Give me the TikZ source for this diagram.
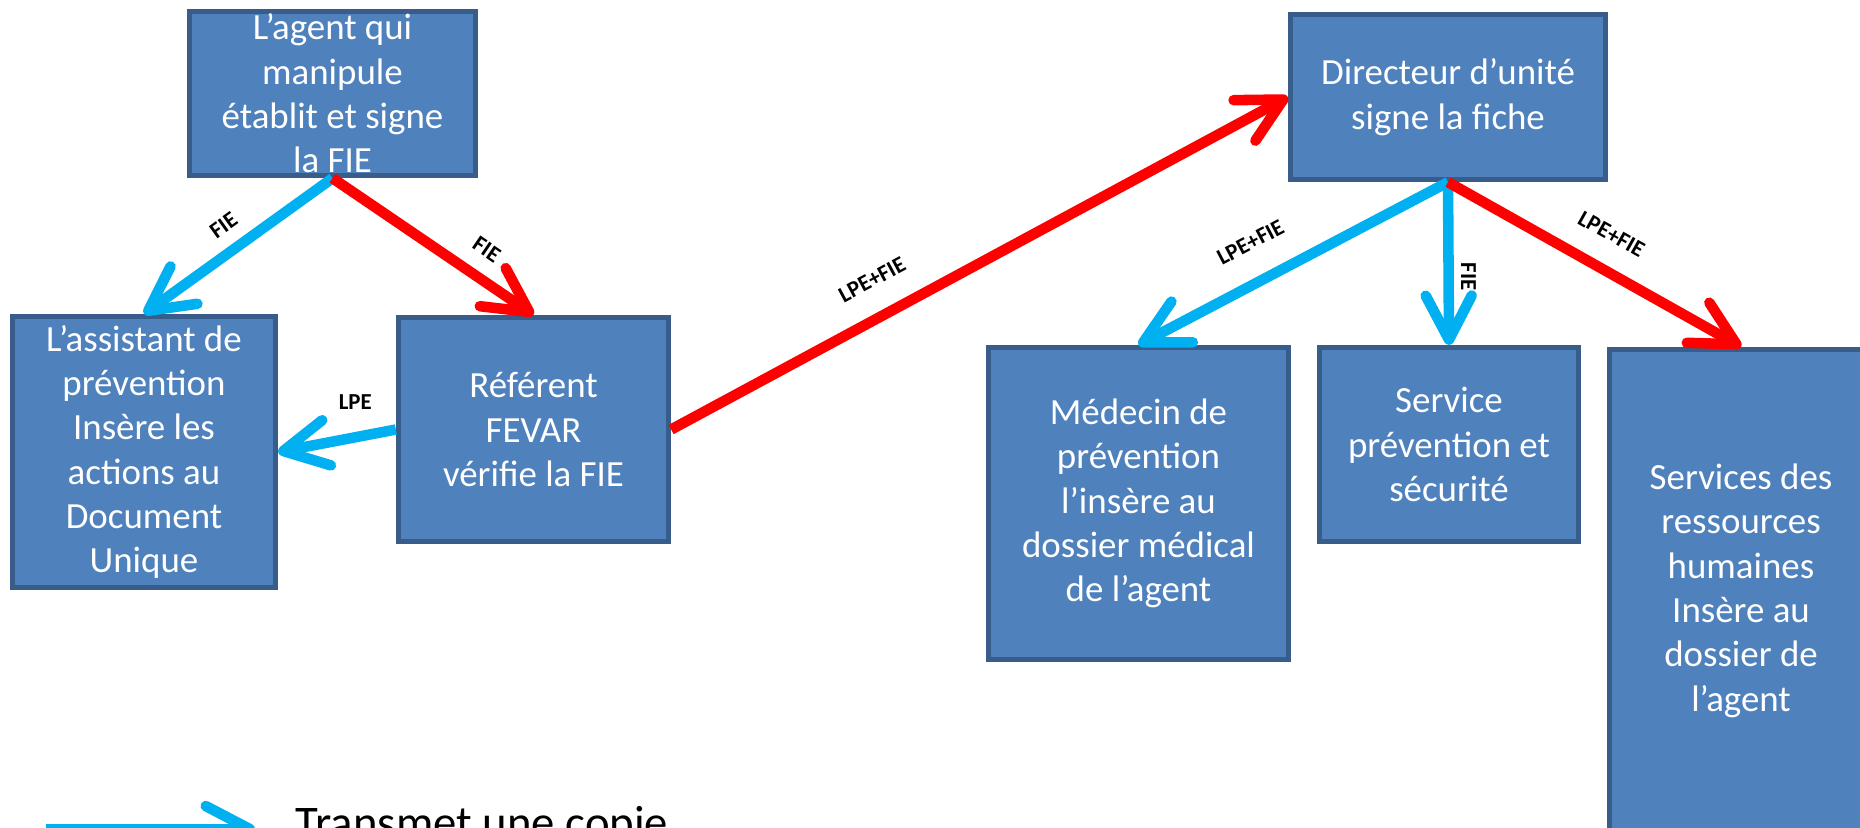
\documentclass[tikz,border=0pt]{standalone}
\usepackage{fontspec}
\setmainfont{Carlito}
\usetikzlibrary{arrows.meta}
\definecolor{boxfill}{RGB}{79,129,189}
\definecolor{boxline}{RGB}{56,93,138}
\definecolor{copyblue}{RGB}{0,176,240}
\definecolor{sendred}{RGB}{255,0,0}

\begin{document}
\begin{tikzpicture}[
  box/.style={draw=boxline, fill=boxfill, line width=1.5pt, text=white, align=center, inner sep=0pt, font=\fontsize{10.5}{12.6}\selectfont},
  flow/.style={line width=3pt, -{Straight Barb[length=4.4mm, width=4.6mm, round]}},
  copie/.style={flow, draw=copyblue},
  envoi/.style={flow, draw=sendred},
  lbl/.style={font=\bfseries\fontsize{6.5}{7}\selectfont, inner sep=1.3mm}
]
\useasboundingbox (0,0) rectangle (18.6,-8.27);
\clip (0,0) rectangle (18.6,-8.27);

% Boxes, left part
\node[box, minimum width=2.86cm, minimum height=1.64cm] (agent) at (3.325,-0.935) {L’agent qui\\manipule\\établit et signe\\la FIE};
\node[box, minimum width=2.63cm, minimum height=2.71cm] (assist) at (1.44,-4.52) {L’assistant de\\prévention\\Insère les\\actions au\\Document\\Unique};
\node[box, minimum width=2.70cm, minimum height=2.24cm] (ref) at (5.335,-4.295) {Référent\\FEVAR\\vérifie la FIE};

% Boxes, right part
\node[box, minimum width=3.15cm, minimum height=1.65cm] (dir) at (14.48,-0.97) {Directeur d’unité\\signe la fiche};
\node[box, minimum width=3.00cm, minimum height=3.12cm] (med) at (11.385,-5.035) {Médecin de\\prévention\\l’insère au\\dossier médical\\de l’agent};
\node[box, minimum width=2.59cm, minimum height=1.94cm] (svc) at (14.49,-4.445) {Service\\prévention et\\sécurité};
\node[box, minimum width=2.63cm, minimum height=4.825cm] (rh) at (17.41,-5.9075) {Services des\\ressources\\humaines\\Insère au\\dossier de\\l’agent};

% Arrows
\draw[copie] (agent.south) -- node[lbl, sloped, above, pos=0.5, inner sep=1.26mm] (l1) {FIE} (assist.north);
\draw[envoi] (agent.south) -- node[lbl, sloped, above, pos=0.69, inner sep=1.5mm] (l2) {FIE} (ref.north);
\draw[copie] (ref.west) -- node[lbl, above, pos=0.345, inner sep=2.25mm] (l3) {LPE} (assist.east);
\draw[envoi] (ref.east) -- node[lbl, sloped, above, pos=0.354, inner sep=2.4mm] (l4) {LPE+FIE} (dir.west);
\draw[copie] (dir.south) -- node[lbl, sloped, above, pos=0.58, inner sep=2.6mm] (l5) {LPE+FIE} (med.north);
\draw[copie] (dir.south) -- coordinate[pos=0.58] (fiemid) (svc.north);
\node[lbl, inner sep=0pt, rotate=-90] (l6) at ([xshift=2mm]fiemid) {FIE};
\draw[envoi] (dir.south) -- node[lbl, sloped, above, pos=0.5, inner sep=2.2mm] (l7) {LPE+FIE} (rh.north);

% Legend
\coordinate (lgA) at (0.46,-8.29);
\coordinate (lgB) at (2.55,-8.29);
\draw[copie] (lgA) -- (lgB);
\node[anchor=base west, inner sep=0pt, font=\fontsize{13.3}{16}\selectfont] (lgtxt) at (2.95,-8.38) {Transmet une copie};
\end{tikzpicture}
\end{document}
